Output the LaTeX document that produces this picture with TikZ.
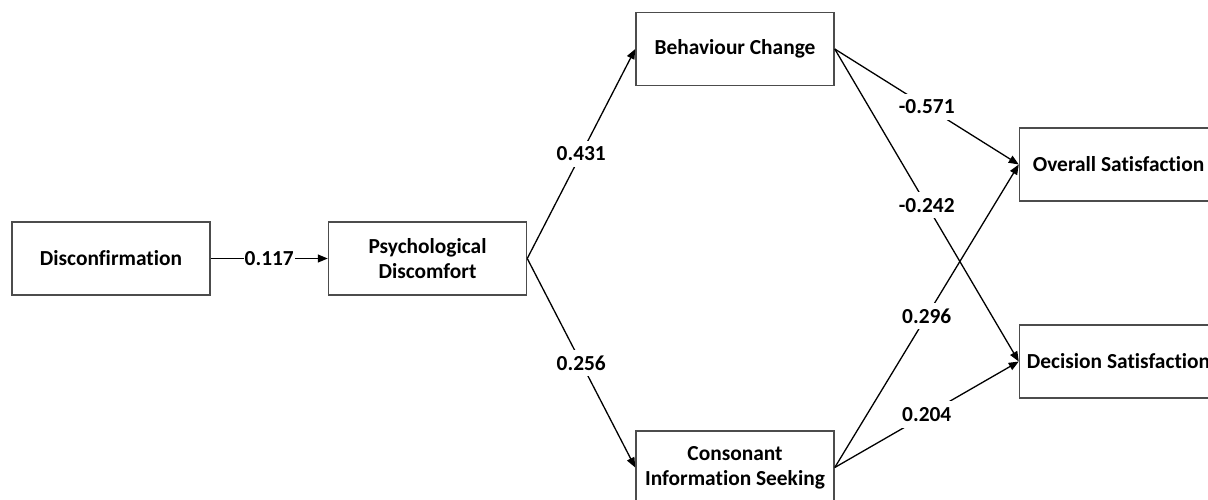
\documentclass[tikz,border=0pt]{standalone}
\usepackage{fontspec}
\setmainfont{Carlito}[Ligatures=NoCommon]
\usepackage{tikz}
\usetikzlibrary{arrows.meta}
\usetikzlibrary{positioning}
\tikzstyle{factor} = [rectangle, minimum width=99pt, minimum height=36.5pt, text centered, align=center, draw=black!70, line width=0.75pt, font=\fontsize{10.7pt}{12.6pt}\selectfont\bfseries]
\tikzstyle{arrow} = [line width=0.65pt, -{Triangle[length=5pt,width=4pt]}]
\tikzstyle{coef} = [midway, fill=white, inner xsep=0.5pt, inner ysep=3pt, font=\fontsize{10.7pt}{12.6pt}\selectfont\bfseries]

\begin{document}
\begin{tikzpicture}
\useasboundingbox (-55.5pt,-120.25pt) rectangle (548.5pt,129.25pt);
\node (disc) [factor] {Disconfirmation};
\node (psych) [factor, right = 58.5pt of disc] {Psychological\\Discomfort};
\node (behav) [factor, right = 54pt of psych, yshift = 104.75pt] {Behaviour Change};
\node (cons) [factor, right = 54pt of psych, yshift = -104.5pt] {Consonant\\Information Seeking};
\node (over) [factor, right = 92pt of behav, yshift = -57.75pt] {Overall Satisfaction};
\node (deci) [factor, right = 92pt of cons, yshift = 53pt] {Decision Satisfaction};
\draw [arrow] (disc.east) -- node [coef] {0.117} (psych.west);
\draw [arrow] (psych.east) -- node [coef] {0.431} (behav.west);
\draw [arrow] (psych.east) -- node [coef] {0.256} (cons.west);
\draw [arrow] (behav.east) -- node [coef] {-0.571} (over.west);
\draw [arrow] (behav.east) -- node [coef] {-0.242} (deci.west);
\draw [arrow] (cons.east) -- node [coef] {0.296} (over.west);
\draw [arrow] (cons.east) -- node [coef] {0.204} (deci.west);
\end{tikzpicture}
\end{document}
